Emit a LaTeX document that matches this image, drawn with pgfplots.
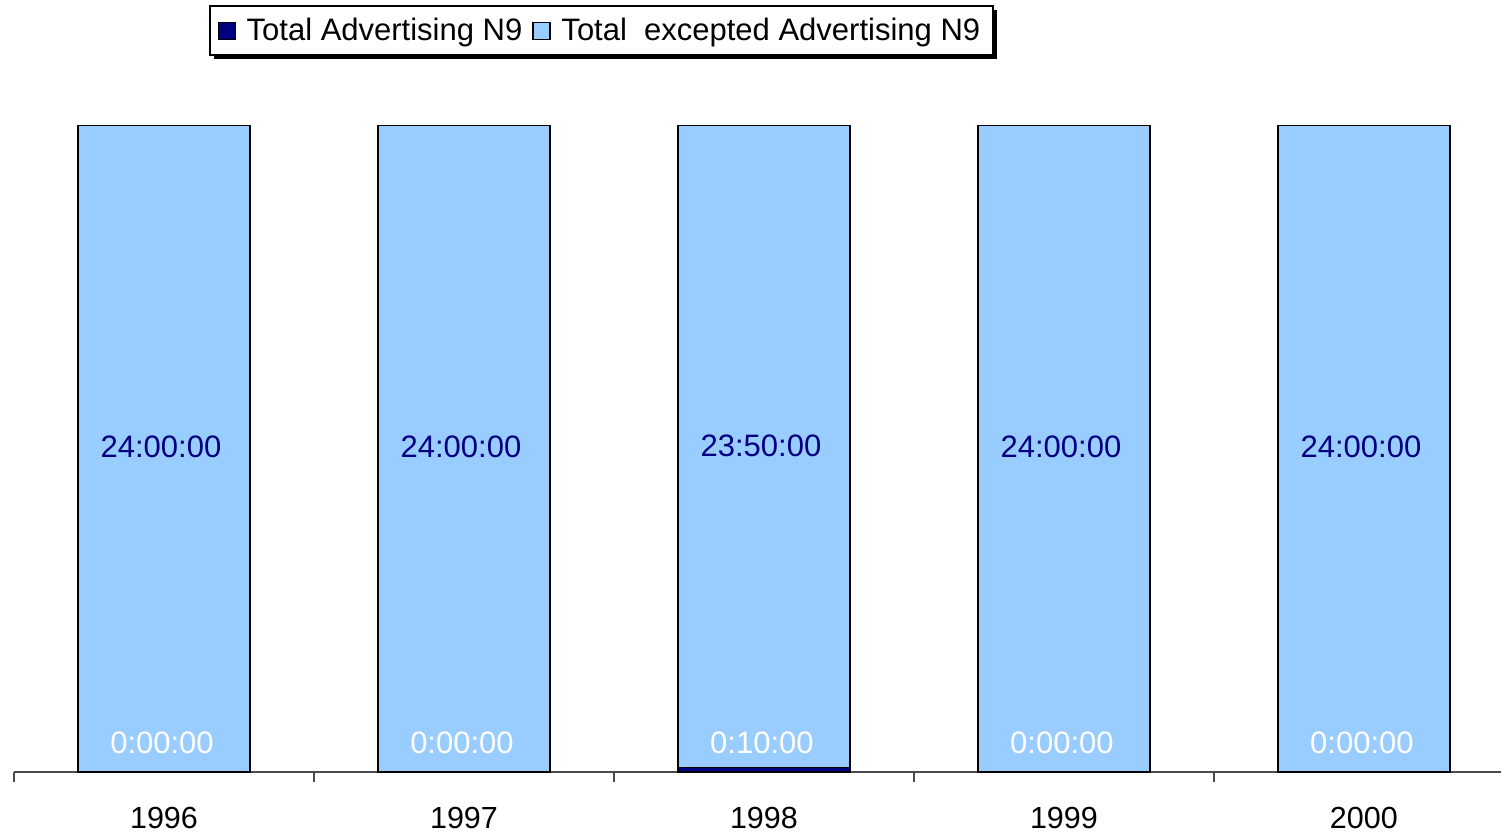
\documentclass[border=0pt]{standalone}
\usepackage{fontspec}
\setmainfont{Liberation Sans}
\usepackage{pgfplots}
\pgfplotsset{compat=1.18}
\usetikzlibrary{shadows}
\definecolor{navy}{HTML}{000080}
\definecolor{lblue}{HTML}{99CCFF}
\begin{document}
\begin{tikzpicture}
\path[use as bounding box] (-5.6pt,-24.4pt) rectangle (594.8pt,308.8pt);
\begin{axis}[
  at={(0,0)}, anchor=south west, scale only axis,
  width=594.8pt, height=258.8pt,
  xmin=-0.5, xmax=4.457, ymin=0, ymax=1440,
  ybar stacked, bar width=68.8pt,
  axis x line*=bottom, axis y line=none,
  x axis line style={draw=black!70, line width=0.6pt},
  xtick={0,1,2,3,4}, xticklabels={1996,1997,1998,1999,2000},
  major tick length=0pt,
  extra x ticks={-0.5,0.5,1.5,2.5,3.5}, extra x tick labels={},
  extra x tick style={major tick length=4pt, tick align=outside, tick style={draw=black!70, line width=0.6pt}},
  xticklabel style={font=\fontsize{12.2}{14}\selectfont, yshift=-10.5pt},
  legend columns=2,
  legend style={at={(0.395,1.185)}, anchor=north, draw=black, line width=0.8pt,
    font=\fontsize{12.4}{15}\selectfont, inner ysep=2.5pt,
    drop shadow={shadow xshift=1.6pt, shadow yshift=-1.6pt, fill=black, opacity=1},
    /tikz/every even column/.append style={column sep=2pt}},
]
\addplot[fill=navy, draw=black, line width=0.6pt,
  legend image code/.code={\node[fill=navy, draw=black, line width=0.5pt, minimum size=6.8pt, inner sep=0pt] at (4pt,0) {};\node[inner sep=0pt, minimum size=0pt] at (10pt,0) {};}]
  coordinates {(0,0) (1,0) (2,10) (3,0) (4,0)};
\addplot[fill=lblue, draw=black, line width=0.6pt,
  legend image code/.code={\node[fill=lblue, draw=black, line width=0.5pt, minimum size=6.8pt, inner sep=0pt] at (4pt,0) {};\node[inner sep=0pt, minimum size=0pt] at (10pt,0) {};}]
  coordinates {(0,1440) (1,1440) (2,1430) (3,1440) (4,1440)};
\legend{Total Advertising N9, Total~ excepted Advertising N9}
\end{axis}
\begin{axis}[
  at={(0,0)}, anchor=south west, scale only axis,
  width=594.8pt, height=258.8pt,
  xmin=-0.5, xmax=4.457, ymin=0, ymax=1440,
  hide axis, clip=false]
\addplot[only marks, mark=*, mark size=0pt, mark options={draw=none, fill=none},
  nodes near coords, point meta=explicit symbolic,
  nodes near coords style={anchor=center, text=navy, font=\fontsize{12.4}{14}\selectfont, xshift=-1.2pt}]
  table[meta=label]{
x y label
0 723 24:00:00
1 723 24:00:00
2 725 23:50:00
3 723 24:00:00
4 723 24:00:00
};
\addplot[only marks, mark=*, mark size=0pt, mark options={draw=none, fill=none},
  nodes near coords, point meta=explicit symbolic,
  nodes near coords style={anchor=center, text=white, font=\fontsize{12.4}{14}\selectfont, xshift=-0.8pt}]
  table[meta=label]{
x y label
0 64 0:00:00
1 64 0:00:00
2 64 0:10:00
3 64 0:00:00
4 64 0:00:00
};
\end{axis}
\end{tikzpicture}
\end{document}
